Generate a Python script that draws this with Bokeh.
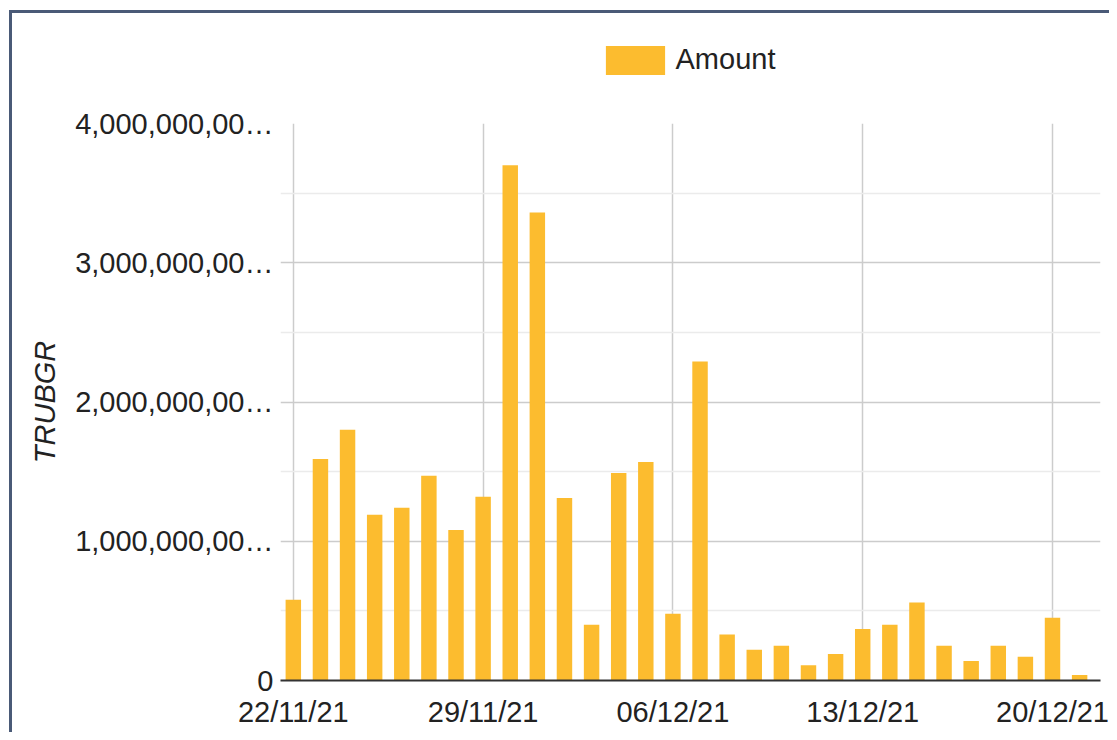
import pandas as pd
from bokeh.plotting import figure
from bokeh.layouts import column
from bokeh.models import FixedTicker, DatetimeTickFormatter, Range1d, Legend, LegendItem
from bokeh.embed import file_html
from bokeh.resources import INLINE

# ---- data ----
dates = ["2021-11-22", "2021-11-23", "2021-11-24", "2021-11-25", "2021-11-26",
         "2021-11-27", "2021-11-28", "2021-11-29", "2021-11-30", "2021-12-01",
         "2021-12-02", "2021-12-03", "2021-12-04", "2021-12-05", "2021-12-06",
         "2021-12-07", "2021-12-08", "2021-12-09", "2021-12-10", "2021-12-11",
         "2021-12-12", "2021-12-13", "2021-12-14", "2021-12-15", "2021-12-16",
         "2021-12-17", "2021-12-18", "2021-12-19", "2021-12-20", "2021-12-21"]
amount = [0.58e9, 1.59e9, 1.80e9, 1.19e9, 1.24e9,
          1.47e9, 1.08e9, 1.32e9, 3.70e9, 3.36e9,
          1.31e9, 0.40e9, 1.49e9, 1.57e9, 0.48e9,
          2.29e9, 0.33e9, 0.22e9, 0.25e9, 0.11e9,
          0.19e9, 0.37e9, 0.40e9, 0.56e9, 0.25e9,
          0.14e9, 0.25e9, 0.17e9, 0.45e9, 0.04e9]
series_name = "Amount"
y_title = "TRUBGR"
x_tick_dates = ["2021-11-22", "2021-11-29", "2021-12-06", "2021-12-13", "2021-12-20"]
y_ticks = [0, 1e9, 2e9, 3e9, 4e9]
y_tick_labels = ["0", "1,000,000,00\u2026", "2,000,000,00\u2026", "3,000,000,00\u2026", "4,000,000,00\u2026"]

# ---- build ----
DAY = 86400000.0
xs = pd.to_datetime(dates)
x_ms = [t.value / 1e6 for t in xs]
tick_ms = [pd.Timestamp(d).value / 1e6 for d in x_tick_dates]
minor_y = [(a + b) / 2 for a, b in zip(y_ticks[:-1], y_ticks[1:])]

FONT = "Liberation Sans"
TXT = "#222222"
FS = "29px"
BORDER = "#4a5a77"
BAR = "#fcbc2f"
W, H_TOP, H_MAIN = 1109, 90, 642
LEFT = 280

# --- legend strip (frame is aligned with the main chart's frame by the column) ---
lg = figure(width=W, height=H_TOP, output_backend="svg", toolbar_location=None,
            x_range=Range1d(0, 1), y_range=Range1d(0, 1),
            min_border_left=0, min_border_right=0, min_border_top=0, min_border_bottom=0)
lg.axis.visible = False
lg.grid.visible = False
lg.outline_line_color = None
lg.background_fill_alpha = 0
lg.border_fill_alpha = 0
# off-range proxy renderer, only used to draw the legend swatch
proxy = lg.vbar(x=[-5], top=[-5], width=1, color=BAR, line_color=None)
legend = Legend(items=[LegendItem(label=series_name, renderers=[proxy])],
                location=(317.5, 12.5), orientation="horizontal",
                glyph_width=74, glyph_height=36, label_height=36, label_standoff=4,
                label_text_font=FONT, label_text_font_size=FS,
                label_text_color=TXT, padding=0, margin=0, spacing=0,
                border_line_color=None, background_fill_alpha=0)
lg.add_layout(legend, "center")

# --- main chart ---
p = figure(width=W, height=H_MAIN, x_axis_type="datetime",
           output_backend="svg", toolbar_location=None,
           x_range=Range1d(x_ms[0] - 0.473 * DAY, x_ms[-1] + 0.77 * DAY),
           y_range=Range1d(0, 4e9),
           min_border_left=LEFT, min_border_right=9,
           min_border_top=33, min_border_bottom=52)
p.border_fill_alpha = 0
p.outline_line_color = None
p.background_fill_color = "white"

p.vbar(x=x_ms, top=amount, width=0.57 * DAY, color=BAR, line_color=None)

# x axis
p.xaxis.ticker = FixedTicker(ticks=tick_ms)
p.xaxis.formatter = DatetimeTickFormatter(days="%d/%m/%y", months="%d/%m/%y", hours="%d/%m/%y")
p.xaxis.axis_line_color = "#333333"
p.xaxis.axis_line_width = 2
p.xaxis.major_tick_line_color = None
p.xaxis.minor_tick_line_color = None
p.xaxis.major_label_text_font = FONT
p.xaxis.major_label_text_font_size = FS
p.xaxis.major_label_text_color = TXT
p.xaxis.major_label_standoff = 9

# y axis
p.yaxis.ticker = FixedTicker(ticks=y_ticks, minor_ticks=minor_y)
p.yaxis.major_label_overrides = {t: l for t, l in zip(y_ticks, y_tick_labels)}
p.yaxis.axis_line_color = None
p.yaxis.major_tick_line_color = None
p.yaxis.minor_tick_line_color = None
p.yaxis.major_label_text_font = FONT
p.yaxis.major_label_text_font_size = FS
p.yaxis.major_label_text_color = TXT
p.yaxis.major_label_standoff = 1
p.yaxis.axis_label = y_title
p.yaxis.axis_label_text_font = FONT
p.yaxis.axis_label_text_font_size = FS
p.yaxis.axis_label_text_font_style = "italic"
p.yaxis.axis_label_text_color = TXT
p.yaxis.axis_label_standoff = 11

# grids
p.xgrid.grid_line_color = "#cccccc"
p.xgrid.grid_line_width = 1.5
p.ygrid.grid_line_color = "#cccccc"
p.ygrid.grid_line_width = 1.5
p.ygrid.minor_grid_line_color = "#ebebeb"
p.ygrid.minor_grid_line_width = 1.5

page = column(lg, p, spacing=0)
page.styles = {
    "background": ("linear-gradient(%s, %s) 9px 10px / 1100px 3px no-repeat, "
                   "linear-gradient(%s, %s) 9px 10px / 3px 722px no-repeat, #ffffff")
                  % (BORDER, BORDER, BORDER, BORDER),
}

open("out.html", "w").write(file_html(page, INLINE))
